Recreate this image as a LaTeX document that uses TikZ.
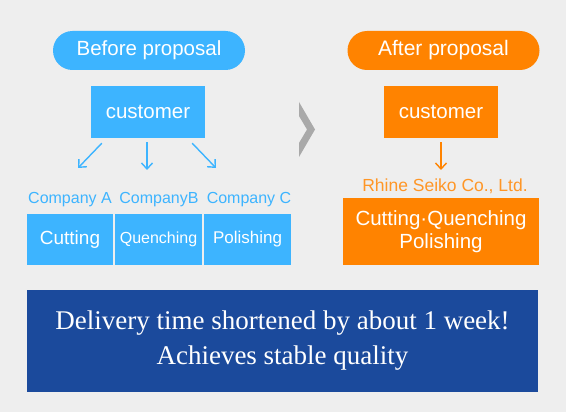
\documentclass[tikz,border=0pt]{standalone}
\usepackage{fontspec}
\setmainfont{Liberation Serif}
\setsansfont{Liberation Sans}
\usetikzlibrary{arrows.meta}
\definecolor{skyblue}{HTML}{3DB4FF}
\definecolor{lightorange}{HTML}{FF8300}
\definecolor{deepblue}{HTML}{1B4A9C}
\definecolor{backgray}{HTML}{EEEEEE}
\definecolor{chevgray}{HTML}{A9A9A9}
\tikzset{
  pill/.style={rectangle, rounded corners=19.5pt, minimum width=192pt, minimum height=39pt, inner sep=0pt, text=white, font=\sffamily\fontsize{20.5}{24}\selectfont},
  cbox/.style={rectangle, minimum width=114pt, minimum height=52pt, inner sep=0pt, text=white, font=\sffamily\fontsize{20.5}{24}\selectfont},
  workbox/.style={rectangle, fill=skyblue, minimum width=86.5pt, minimum height=51pt, inner sep=0pt, text=white},
  complabel/.style={text=skyblue, inner sep=0pt, font=\sffamily\fontsize{16}{19}\selectfont},
  arr/.style={-{Straight Barb[length=6pt,width=11pt]}, line width=1.4pt},
}
\begin{document}
\begin{tikzpicture}[x=1pt, y=-1pt]
\fill[backgray] (0,0) rectangle (566,412);
\useasboundingbox (0,0) rectangle (566,412);

% before
\node[pill, fill=skyblue] (PillB) at (149,50.5) {Before proposal};
\node[cbox, fill=skyblue] (CustB) at (148,112) {customer};
\coordinate (aL) at (78,168);
\coordinate (aM) at (147,170);
\coordinate (aR) at (216,168);
\draw[arr, skyblue] ([xshift=11pt,yshift=-5pt]CustB.south west) -- (aL);
\draw[arr, skyblue] ([xshift=-1pt,yshift=-4pt]CustB.south) -- (aM);
\draw[arr, skyblue] ([xshift=-13pt,yshift=-5pt]CustB.south east) -- (aR);

\node[complabel] (CoA) at (70,200) {Company A};
\node[complabel] (CoB) at (159,200) {CompanyB};
\node[complabel] (CoC) at (249,200) {Company C};
\node[workbox, font=\sffamily\fontsize{19}{22}\selectfont] (Cut) at (70,239.5) {Cutting};
\node[workbox, font=\sffamily\fontsize{16}{19}\selectfont] (Que) at (158.5,239.5) {Quenching};
\node[workbox, font=\sffamily\fontsize{17}{20}\selectfont] (Pol) at (247.5,239.5) {Polishing};

% chevron
\fill[chevgray] (299,102) -- (315,129.5) -- (299,157) -- (299,143) -- (307,129.5) -- (299,116) -- cycle;

% after
\node[pill, fill=lightorange, font=\sffamily\fontsize{21}{24}\selectfont] (PillA) at (443.5,50.5) {After proposal};
\node[cbox, fill=lightorange] (CustA) at (441,112) {customer};
\coordinate (aO) at (441,170);
\draw[arr, lightorange] ([yshift=-4pt]CustA.south) -- (aO);
\node[text=lightorange!85!white, inner sep=0pt, font=\sffamily\fontsize{17.5}{20}\selectfont] (Rhine) at (445,186) {Rhine Seiko Co., Ltd.};
\node[rectangle, fill=lightorange, minimum width=196pt, minimum height=67pt, inner sep=0pt, text=white, align=center, font=\sffamily\fontsize{20.5}{23}\selectfont] (All) at (441,231.5) {Cutting·Quenching\\Polishing};

% result
\node[rectangle, fill=deepblue, minimum width=511pt, minimum height=102pt, inner sep=0pt, text=white, align=center, font=\rmfamily\fontsize{27}{35}\selectfont] (Result) at (282.5,340.5) {Delivery time shortened by about 1 week!\\Achieves stable quality};
\end{tikzpicture}
\end{document}
